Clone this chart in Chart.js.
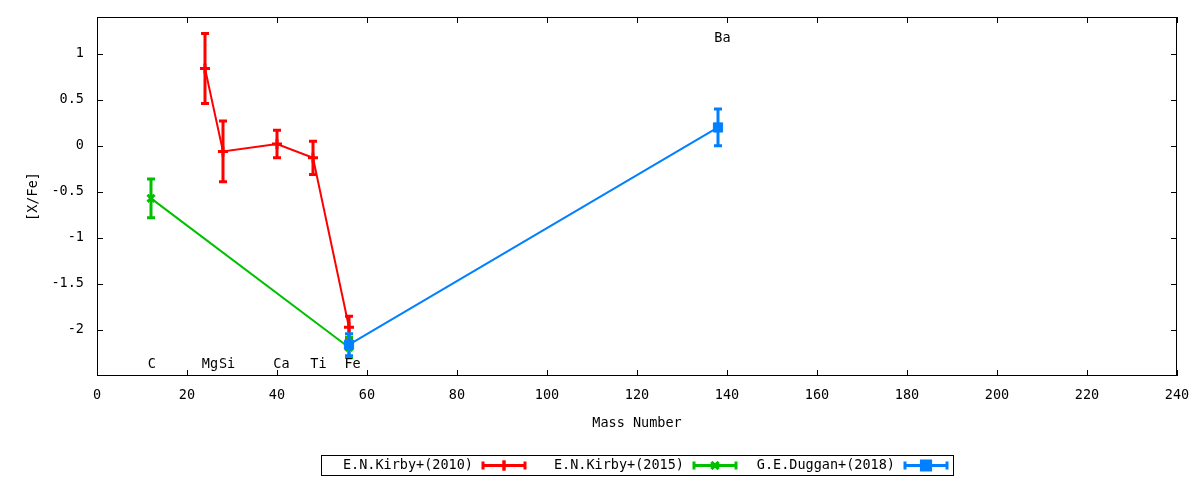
<!DOCTYPE html>
<html>
<head>
<meta charset="utf-8">
<script src="https://cdn.jsdelivr.net/npm/chart.js@4/dist/chart.umd.min.js"></script>
<style>
  html, body { margin: 0; padding: 0; background: #fff; }
  #wrap { width: 1200px; height: 480px; }
</style>
</head>
<body>
<div id="wrap"><canvas id="abund"></canvas></div>
<script>
// DATA
const kirby10Mass = [24, 28, 40, 48, 56];
const kirby10Val  = [0.84, -0.06, 0.02, -0.13, -1.97];
const kirby10Err  = [0.38, 0.33, 0.15, 0.18, 0.12];

const kirby15Mass = [12, 56];
const kirby15Val  = [-0.57, -2.19];
const kirby15Err  = [0.21, 0.11];

const duggan18Mass = [56, 138];
const duggan18Val  = [-2.16, 0.20];
const duggan18Err  = [0.12, 0.20];

const elemNames  = ['C', 'Mg', 'Si', 'Ca', 'Ti', 'Fe', 'Ba'];
const elemLabelX = [12.2, 25.1, 28.9, 41.0, 49.2, 56.8, 139.0];
const elemLabelY = [-2.38, -2.38, -2.38, -2.38, -2.38, -2.38, 1.17];

const xTicks = [0, 20, 40, 60, 80, 100, 120, 140, 160, 180, 200, 220, 240];
const yTicks = [-2, -1.5, -1, -0.5, 0, 0.5, 1];

const FONT = { family: '"DejaVu Sans Mono", monospace', size: 13.5 };

function pts(xs, ys) {
    return xs.map((x, i) => ({ x: x, y: ys[i] }));
}

// error bars, element labels, frame + inward ticks, legend
const gnuStyle = {
    id: 'gnuStyle',
    afterDatasetDraw(chart, args) {
        const ctx = chart.ctx;
        const ds = chart.data.datasets[args.index];
        const ys = chart.scales.y;
        ctx.save();
        ctx.strokeStyle = ds.borderColor;
        ctx.lineWidth = 3;
        args.meta.data.forEach((p, i) => {
            const v = ds.data[i].y, e = ds.errors[i];
            const top = ys.getPixelForValue(v + e);
            const bot = ys.getPixelForValue(v - e);
            ctx.beginPath();
            ctx.moveTo(p.x, top); ctx.lineTo(p.x, bot);
            ctx.moveTo(p.x - 4, top); ctx.lineTo(p.x + 4, top);
            ctx.moveTo(p.x - 4, bot); ctx.lineTo(p.x + 4, bot);
            ctx.stroke();
        });
        ctx.restore();
    },
    afterDraw(chart) {
        const ctx = chart.ctx;
        const a = chart.chartArea;
        const xs = chart.scales.x, ys = chart.scales.y;
        ctx.save();

        // element labels
        ctx.fillStyle = '#000';
        ctx.font = FONT.size + 'px ' + FONT.family;
        ctx.textAlign = 'center';
        ctx.textBaseline = 'middle';
        elemNames.forEach((n, i) => {
            ctx.fillText(n, xs.getPixelForValue(elemLabelX[i]), ys.getPixelForValue(elemLabelY[i]));
        });

        // frame
        ctx.strokeStyle = '#000';
        ctx.lineWidth = 1;
        ctx.strokeRect(a.left + 0.5, a.top + 0.5, a.right - a.left - 1, a.bottom - a.top - 1);
        ctx.beginPath();
        xTicks.forEach(v => {
            const px = Math.round(xs.getPixelForValue(v)) + 0.5;
            ctx.moveTo(px, a.bottom); ctx.lineTo(px, a.bottom - 6);
            ctx.moveTo(px, a.top); ctx.lineTo(px, a.top + 6);
        });
        yTicks.forEach(v => {
            const py = Math.round(ys.getPixelForValue(v)) + 0.5;
            ctx.moveTo(a.left, py); ctx.lineTo(a.left + 6, py);
            ctx.moveTo(a.right, py); ctx.lineTo(a.right - 6, py);
        });
        ctx.stroke();

        // legend
        const boxW = 632, boxH = 20, entryW = 211;
        const bx = Math.round((a.left + a.right) / 2 - boxW / 2);
        const by = 455;
        ctx.strokeRect(bx + 0.5, by + 0.5, boxW, boxH);
        const cy = by + boxH / 2 + 0.5;
        chart.data.datasets.forEach((ds, i) => {
            const ex = bx + i * entryW;
            ctx.fillStyle = '#000';
            ctx.textAlign = 'right';
            ctx.fillText(ds.label, ex + 152, cy);
            const s0 = ex + 162, s1 = ex + 204, mid = (s0 + s1) / 2;
            ctx.strokeStyle = ds.borderColor;
            ctx.fillStyle = ds.borderColor;
            ctx.lineWidth = 3;
            ctx.beginPath();
            ctx.moveTo(s0, cy); ctx.lineTo(s1, cy);
            ctx.moveTo(s0, cy - 4); ctx.lineTo(s0, cy + 4);
            ctx.moveTo(s1, cy - 4); ctx.lineTo(s1, cy + 4);
            ctx.stroke();
            Chart.helpers.drawPoint(ctx, {
                pointStyle: ds.pointStyle, radius: ds.pointRadius,
                borderWidth: ds.pointBorderWidth, rotation: 0
            }, mid, cy);
            if (ds.pointStyle === 'rect') ctx.fill(); else ctx.stroke();
        });
        ctx.restore();
    }
};

new Chart(document.getElementById('abund'), {
    type: 'line',
    data: {
        datasets: [
            {
                label: 'E.N.Kirby+(2010)',
                data: pts(kirby10Mass, kirby10Val),
                errors: kirby10Err,
                borderColor: '#ff0000',
                backgroundColor: '#ff0000',
                borderWidth: 2,
                pointStyle: 'cross',
                pointRadius: 5,
                pointBorderWidth: 3,
                order: 2
            },
            {
                label: 'E.N.Kirby+(2015)',
                data: pts(kirby15Mass, kirby15Val),
                errors: kirby15Err,
                borderColor: '#00c000',
                backgroundColor: '#00c000',
                borderWidth: 2,
                pointStyle: 'crossRot',
                pointRadius: 5,
                pointBorderWidth: 3,
                order: 1
            },
            {
                label: 'G.E.Duggan+(2018)',
                data: pts(duggan18Mass, duggan18Val),
                errors: duggan18Err,
                borderColor: '#0080ff',
                backgroundColor: '#0080ff',
                borderWidth: 2,
                pointStyle: 'rect',
                pointRadius: 6.5,
                pointBorderWidth: 1,
                order: 0
            }
        ]
    },
    options: {
        responsive: true,
        maintainAspectRatio: false,
        animation: false,
        layout: { padding: { top: 17, right: 23, left: 0, bottom: 0 } },
        plugins: {
            legend: { display: false },
            tooltip: { enabled: false }
        },
        scales: {
            x: {
                type: 'linear',
                min: 0,
                max: 240,
                afterBuildTicks: s => { s.ticks = xTicks.map(v => ({ value: v })); },
                afterFit: s => { s.height = 104; s.paddingLeft = 0; s.paddingRight = 0; },
                grid: { display: false, drawTicks: false },
                border: { display: false },
                ticks: { color: '#000', font: FONT, padding: 11, maxRotation: 0, autoSkip: false },
                title: {
                    display: true, text: 'Mass Number', color: '#000', font: FONT,
                    padding: { top: 0, bottom: 48 }
                }
            },
            y: {
                type: 'linear',
                min: -2.5,
                max: 1.4,
                afterBuildTicks: s => { s.ticks = yTicks.map(v => ({ value: v })); },
                afterFit: s => { s.width = 97; s.paddingTop = 0; s.paddingBottom = 0; },
                grid: { display: false, drawTicks: false },
                border: { display: false },
                ticks: { color: '#000', font: FONT, padding: 13, callback: v => String(v) },
                title: {
                    display: true, text: '[X/Fe]', color: '#000', font: FONT,
                    padding: { top: 25, bottom: 0 }
                }
            }
        }
    },
    plugins: [gnuStyle]
});
</script>
</body>
</html>
